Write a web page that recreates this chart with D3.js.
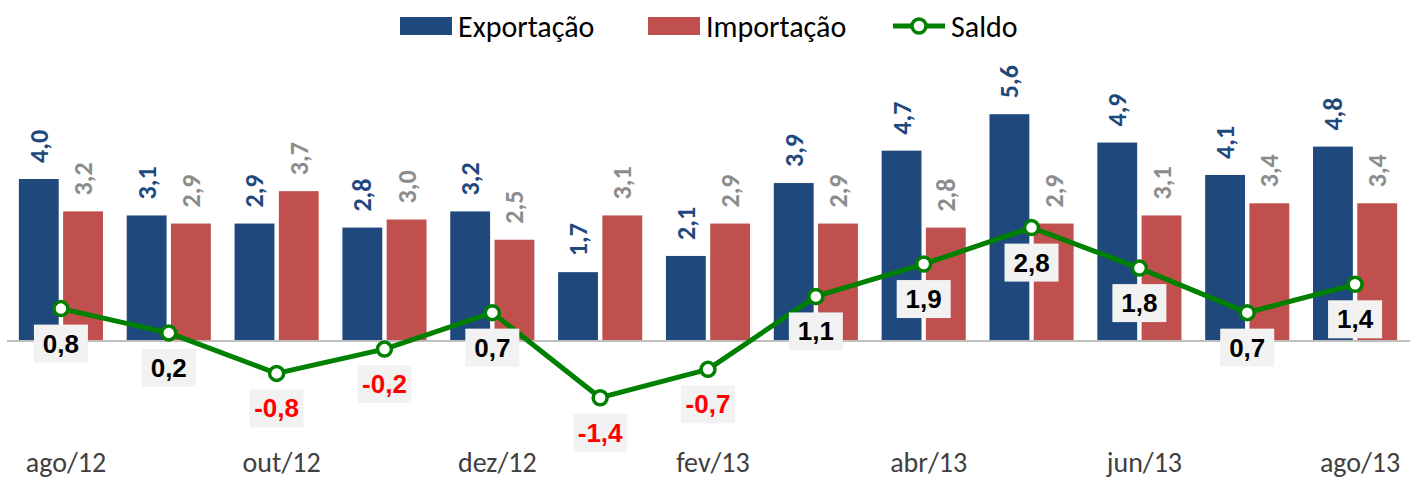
<!DOCTYPE html>
<html lang="pt">
<head>
  <meta charset="UTF-8">
  <title>Exportação, Importação e Saldo</title>
  <script src="https://d3js.org/d3.v7.min.js"></script>
  <style>
    body { margin: 0; background: #fff; }
    svg { display: block; font-family: Carlito, Lato, sans-serif; }
  </style>
</head>
<body>
  <svg width="1410" height="480"></svg>
  <script>
    const categories = ["ago/12", "set/12", "out/12", "nov/12", "dez/12", "jan/13", "fev/13",
                        "mar/13", "abr/13", "mai/13", "jun/13", "jul/13", "ago/13"];
    const exportacao = [4.0, 3.1, 2.9, 2.8, 3.2, 1.7, 2.1, 3.9, 4.7, 5.6, 4.9, 4.1, 4.8];
    const importacao = [3.2, 2.9, 3.7, 3.0, 2.5, 3.1, 2.9, 2.9, 2.8, 2.9, 3.1, 3.4, 3.4];
    const saldo      = [0.8, 0.2, -0.8, -0.2, 0.7, -1.4, -0.7, 1.1, 1.9, 2.8, 1.8, 0.7, 1.4];
    const tickLabels = ["ago/12", "out/12", "dez/12", "fev/13", "abr/13", "jun/13", "ago/13"];

    const colors = { exp: "#1F497D", imp: "#C0504D", saldo: "#008000" };
    const fmt = v => d3.format(".1f")(v).replace(".", ",").replace("−", "-");

    const svg = d3.select("svg");

    const x = d3.scaleBand().domain(categories).range([7, 1409])
      .paddingInner(0.22).paddingOuter(0.11);
    const x1 = d3.scaleBand().domain(["exp", "imp"]).range([0, x.bandwidth()]).paddingInner(0.1);
    const y = d3.scaleLinear().domain([-3, 7]).range([462.5, 57.5]);

    const rows = categories.map((c, i) => ({ cat: c, exp: exportacao[i], imp: importacao[i], saldo: saldo[i] }));

    // bars
    const grp = svg.append("g").selectAll("g").data(rows).join("g")
      .attr("transform", d => `translate(${x(d.cat)},0)`);

    ["exp", "imp"].forEach(k => {
      grp.append("rect")
        .attr("x", x1(k))
        .attr("width", x1.bandwidth())
        .attr("y", d => y(d[k]))
        .attr("height", d => y(0) - y(d[k]))
        .attr("fill", colors[k]);

      grp.append("text")
        .attr("transform", d => `translate(${x1(k) + x1.bandwidth() / 2 + 9},${y(d[k]) - 16}) rotate(-90)`)
        .attr("font-size", 26)
        .attr("font-weight", "bold")
        .attr("fill", k === "exp" ? "#1F497D" : "#8C8C8C")
        .text(d => fmt(d[k]));
    });

    // axis line
    svg.append("line")
      .attr("x1", 7).attr("x2", 1410)
      .attr("y1", y(0)).attr("y2", y(0))
      .attr("stroke", "#BFBFBF").attr("stroke-width", 2);

    // x labels
    const xAxis = d3.axisBottom(x).tickValues(tickLabels).tickSize(0).tickPadding(0);
    const ax = svg.append("g").attr("transform", "translate(0,463)").call(xAxis);
    ax.select(".domain").remove();
    ax.selectAll("text")
      .attr("font-family", "Carlito, Lato, sans-serif")
      .attr("font-size", 28)
      .attr("fill", "#404040")
      .attr("dy", "0.32em")
      .attr("dx", 5);

    // saldo line
    const cx = d => x(d.cat) + x.bandwidth() / 2;
    const line = d3.line().x(cx).y(d => y(d.saldo));
    svg.append("path")
      .datum(rows)
      .attr("d", line)
      .attr("fill", "none")
      .attr("stroke", colors.saldo)
      .attr("stroke-width", 5)
      .attr("stroke-linejoin", "round");

    svg.append("g").selectAll("circle").data(rows).join("circle")
      .attr("cx", cx).attr("cy", d => y(d.saldo)).attr("r", 7)
      .attr("fill", "#fff").attr("stroke", colors.saldo).attr("stroke-width", 3.5);

    // saldo labels
    const lab = svg.append("g").selectAll("g").data(rows).join("g")
      .attr("transform", d => `translate(${cx(d)},${y(d.saldo) + 16})`);
    lab.append("rect")
      .attr("x", -27).attr("width", 54).attr("y", 0).attr("height", 38)
      .attr("fill", "#F2F2F2");
    lab.append("text")
      .attr("x", 0).attr("y", 28)
      .attr("text-anchor", "middle")
      .attr("font-family", "'Liberation Sans', Arial, sans-serif")
      .attr("font-size", 26)
      .attr("font-weight", "bold")
      .attr("fill", d => d.saldo < 0 ? "#FF0000" : "#000")
      .text(d => fmt(d.saldo));

    // legend
    const legend = svg.append("g").attr("font-size", 30).attr("fill", "#000");
    const items = [
      { key: "exp", label: "Exportação", x: 400 },
      { key: "imp", label: "Importação", x: 648 },
      { key: "saldo", label: "Saldo", x: 893 }
    ];
    items.forEach(it => {
      if (it.key === "saldo") {
        legend.append("line").attr("x1", it.x).attr("x2", it.x + 52).attr("y1", 26).attr("y2", 26)
          .attr("stroke", colors.saldo).attr("stroke-width", 5);
        legend.append("circle").attr("cx", it.x + 26).attr("cy", 26).attr("r", 7)
          .attr("fill", "#fff").attr("stroke", colors.saldo).attr("stroke-width", 3.5);
      } else {
        legend.append("rect").attr("x", it.x).attr("y", 17).attr("width", 52).attr("height", 18)
          .attr("fill", colors[it.key]);
      }
      legend.append("text").attr("x", it.x + 58).attr("y", 26).attr("dy", "0.35em").text(it.label);
    });
  </script>
</body>
</html>
